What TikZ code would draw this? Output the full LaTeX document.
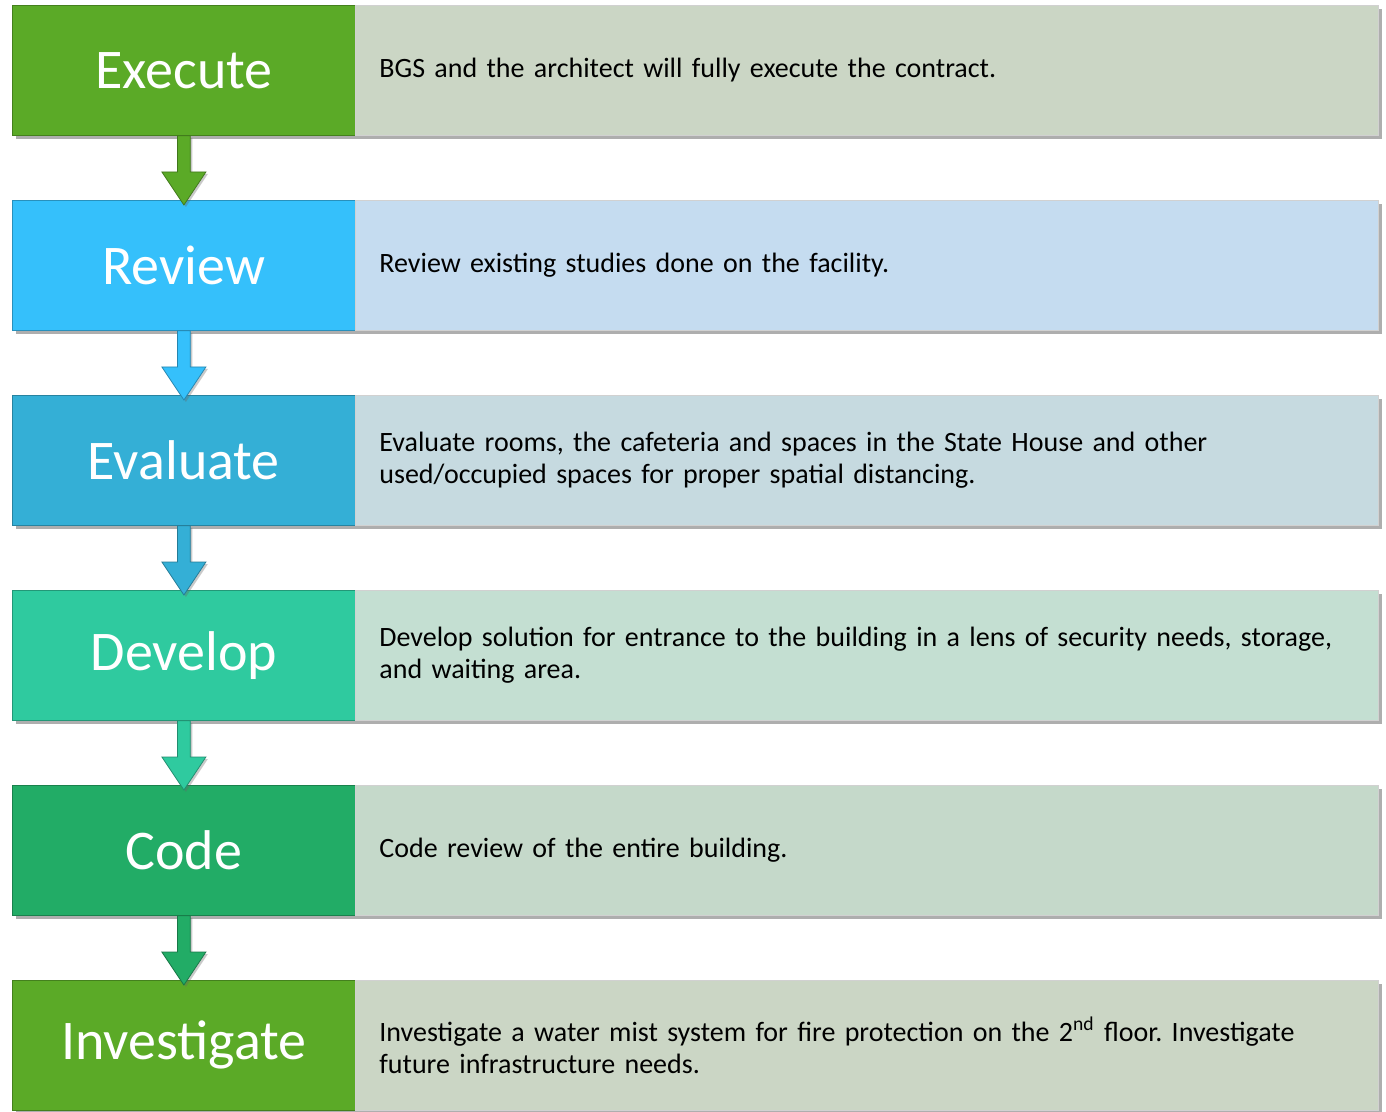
\documentclass[tikz,border=0pt]{standalone}
\usepackage{fontspec}
\setmainfont{Carlito}
\usetikzlibrary{calc,shadows}
\definecolor{cA}{HTML}{5BAA27}
\definecolor{cB}{HTML}{35C0FB}
\definecolor{cC}{HTML}{34AFD6}
\definecolor{cD}{HTML}{2FCA9F}
\definecolor{cE}{HTML}{22AC66}
\definecolor{rA}{HTML}{CBD6C5}
\definecolor{rB}{HTML}{C5DCF0}
\definecolor{rC}{HTML}{C6DAE0}
\definecolor{rD}{HTML}{C4DFD2}
\definecolor{rE}{HTML}{C5D9CA}
\begin{document}
\frenchspacing
\begin{tikzpicture}[x=0.5pt,y=-0.5pt,
  shad/.style={drop shadow={shadow xshift=1.6pt,shadow yshift=-1.6pt,fill=black!70,opacity=0.45}},
  lbox/.style={rectangle, anchor=north west, minimum width=171.5pt, minimum height=65pt,
    inner sep=0pt, text=white, font=\fontsize{28}{33}\selectfont, fill=#1, draw=#1!75!black, line width=0.4pt, shad},
  rbox/.style={rectangle, anchor=north west, minimum width=511.5pt, minimum height=65pt,
    text width=487.5pt, inner xsep=12pt, inner ysep=0pt, align=left,
    font=\fontsize{14}{16}\selectfont, fill=#1, draw=black!18, line width=0.4pt, shad},
  flow/.style={fill=#1, draw=#1!70!black, line width=0.4pt,
    drop shadow={shadow xshift=1pt,shadow yshift=-1pt,fill=black!60,opacity=0.35}}
]
\useasboundingbox (0,0) rectangle (1386,1112);
\fill[white] (0,0) rectangle (1386,1112);

\node[lbox=cA] (L1) at (12,5) {Execute};
\node[rbox=rA] (R1) at (355,5) {BGS and the architect will fully execute the contract.};
\node[lbox=cB] (L2) at (12,200) {Review};
\node[rbox=rB] (R2) at (355,200) {Review existing studies done on the facility.};
\node[lbox=cC] (L3) at (12,395) {Evaluate};
\node[rbox=rC] (R3) at (355,395) {Evaluate rooms, the cafeteria and spaces in the State House and other\\used/occupied spaces for proper spatial distancing.};
\node[lbox=cD] (L4) at (12,590) {Develop};
\node[rbox=rD] (R4) at (355,590) {Develop solution for entrance to the building in a lens of security needs, storage,\\and waiting area.};
\node[lbox=cE] (L5) at (12,785) {Code};
\node[rbox=rE] (R5) at (355,785) {Code review of the entire building.};
\node[lbox=cA] (L6) at (12,980) {Investigate};
\node[rbox=rA] (R6) at (355,980) {Investigate a water mist system for fire protection on the 2\textsuperscript{nd} floor. Investigate\\future infrastructure needs.};

\foreach \a/\b/\c in {L1/L2/cA,L2/L3/cB,L3/L4/cC,L4/L5/cD,L5/L6/cE}{
  \filldraw[flow=\c]
    ($(\a.south)+(-3.2pt,0)$) -- ($(\b.north)+(-3.2pt,14pt)$) -- ($(\b.north)+(-11pt,14pt)$)
    -- ($(\b.north)+(0,-2.5pt)$) -- ($(\b.north)+(11pt,14pt)$) -- ($(\b.north)+(3.2pt,14pt)$)
    -- ($(\a.south)+(3.2pt,0)$) -- cycle;
}
\end{tikzpicture}
\end{document}
